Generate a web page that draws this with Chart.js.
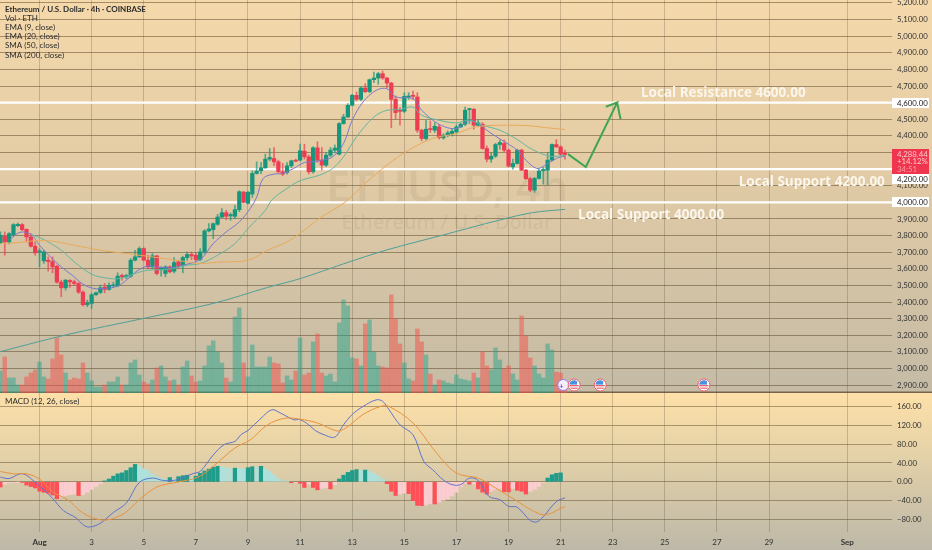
<!DOCTYPE html>
<html>
<head>
<meta charset="utf-8">
<script src="https://cdn.jsdelivr.net/npm/chart.js@4"></script>
<style>
html,body{margin:0;padding:0;width:932px;height:550px;overflow:hidden}
body{background:linear-gradient(180deg,#f5d9ab 0,#e2cba5 170px,#c5bba6 391px,#75654c 392px,#75654c 393px,#fee0a8 393px,#e6d3a8 450px,#bdb8a8 550px)}
#wrap{position:relative;width:932px;height:550px;filter:blur(.35px)}
canvas{position:absolute;left:0}
#priceChart{top:0}
#macdChart{top:393px}
</style>
</head>
<body>
<div id="wrap">
<canvas id="priceChart" width="932" height="393"></canvas>
<canvas id="macdChart" width="932" height="157"></canvas>
</div>
<script>
// bar numbers: 0 is Aug 1 00:00, six 4h bars a day
const firstBar = -9;
const opens = [3756,3796,3762,3806,3860,3866,3838,3792,3736,
  3702,3648,3652,3644,3616,3520,3486,3530,3522,3512,
  3460,3384,3392,3444,3458,3490,3476,3498,3498,3560,
  3552,3556,3652,3672,3722,3652,3612,3678,3596,3572,
  3612,3586,3642,3622,3668,3686,3682,3656,3702,3828,
  3836,3868,3912,3938,3918,3916,3956,4062,3994,4050,
  4174,4190,4208,4260,4264,4244,4184,4180,4220,4254,
  4254,4308,4274,4184,4328,4254,4224,4284,4314,4290,
  4474,4514,4584,4644,4620,4688,4666,4738,4748,4774,
  4748,4718,4620,4554,4548,4634,4644,4634,4434,4384,
  4444,4434,4454,4388,4402,4414,4424,4454,4470,4558,
  4560,4464,4470,4324,4260,4278,4348,4354,4314,4214,
  4234,4314,4194,4142,4074,4144,4190,4194,4254,4348,4334,4296];
const closes = [3802,3762,3812,3866,3868,3836,3792,3736,3696,
  3708,3702,3644,3612,3520,3486,3532,3522,3512,3460,
  3384,3394,3444,3456,3486,3476,3500,3504,3556,3552,
  3560,3652,3672,3722,3652,3612,3678,3572,3606,3612,
  3582,3638,3616,3668,3686,3678,3656,3702,3828,3840,
  3872,3912,3938,3916,3926,3956,4064,4000,4060,4174,
  4188,4208,4260,4270,4244,4184,4170,4220,4250,4248,
  4310,4274,4184,4328,4254,4224,4284,4314,4326,4474,
  4514,4584,4644,4620,4688,4666,4738,4748,4774,4748,
  4718,4620,4540,4548,4638,4640,4638,4434,4384,4440,
  4438,4458,4390,4404,4418,4428,4454,4470,4554,4564,
  4464,4478,4324,4260,4278,4348,4360,4314,4218,4234,
  4314,4194,4142,4074,4144,4188,4198,4254,4348,4334,4290,4288];
const highs = [3822,3822,3818,3872,3876,3872,3840,3812,3762,
  3722,3712,3672,3672,3622,3532,3536,3536,3532,3518,
  3468,3412,3452,3460,3502,3512,3516,3520,3576,3568,
  3568,3662,3712,3732,3728,3682,3692,3682,3612,3618,
  3618,3668,3652,3676,3702,3702,3696,3722,3836,3872,
  3876,3928,3962,3952,3936,3982,4070,4066,4066,4190,
  4244,4240,4290,4324,4330,4254,4234,4240,4254,4260,
  4350,4350,4284,4336,4364,4330,4300,4330,4345,4480,
  4530,4594,4650,4664,4694,4714,4742,4784,4782,4790,
  4752,4722,4640,4570,4660,4660,4670,4660,4440,4494,
  4490,4480,4470,4412,4430,4440,4465,4478,4574,4566,
  4566,4495,4480,4340,4300,4355,4375,4375,4320,4260,
  4320,4320,4198,4150,4150,4200,4210,4300,4352,4378,4340,4314];
const lows = [3752,3682,3750,3796,3854,3830,3762,3730,3682,
  3612,3632,3586,3576,3514,3432,3472,3488,3502,3452,
  3376,3372,3362,3440,3452,3456,3472,3488,3492,3532,
  3540,3548,3648,3668,3648,3602,3602,3564,3556,3552,
  3576,3576,3602,3576,3652,3656,3648,3648,3692,3822,
  3782,3862,3908,3896,3892,3902,3944,3996,3990,4030,
  4170,4172,4204,4250,4220,4176,4160,4170,4208,4244,
  4250,4260,4170,4176,4240,4194,4215,4274,4300,4285,
  4470,4510,4580,4610,4612,4660,4660,4720,4710,4740,
  4690,4450,4504,4464,4540,4620,4620,4420,4370,4374,
  4420,4420,4380,4380,4395,4400,4415,4450,4462,4474,
  4440,4455,4320,4244,4240,4270,4320,4305,4215,4200,
  4230,4190,4140,4064,4060,4140,4110,4104,4250,4330,4280,4260];
const volumes = [22,36,15,15,8,8,16,20,23,
  31,16,14,34,55,38,20,13,15,14,
  30,20,12,6,6,8,11,11,16,8,
  8,30,33,18,11,9,13,25,27,16,
  12,13,8,26,32,17,11,12,27,47,
  52,41,30,15,11,76,85,30,16,48,
  26,26,26,36,30,29,10,17,13,22,
  55,18,20,51,59,20,17,19,11,70,
  93,87,35,34,27,69,73,41,27,26,
  25,98,74,49,30,14,12,64,51,38,
  19,8,13,12,10,9,18,14,13,12,
  20,15,41,27,23,45,33,24,27,19,
  13,77,57,35,27,19,15,49,43,21,20,9];
const macdHist = [-11,-5,-2,-1,-0.5,-1,-7,-10,-13,
  -20,-22,-24,-28,-36,-32,-29,-27,-26,
  -29,-27,-22,-16,-10,-4,2,6,12,17,
  19,24,30,37,34,28,24,17,11,7,
  5,9,5,11,13,14,8,12,18,23,
  27,31,33,32,30,28,29,28,27,30,
  32,31,33,28,22,15,7,2,1,-2,
  -1,-3,-12,-5,-12,-17,-14,-12,-15,-6,
  6,14,20,24,26,24,25,23,18,13,
  6,-4,-20,-29,-26,-24,-25,-40,-50,-50.5,
  -49,-46,-47,-43,-39,-36,-30,-22,-10,-3,
  -5,-4,-15,-22,-26,-20,-16,-14,-21,-21.5,
  -14,-18,-20,-26,-20,-16,-10,-1,8,15,18,19];

const ema9Bars = [-7,-4.5,-2,0,2.5,5,7.5,10,12.5,15,18,20,22.5,25,27,30,33,37,40,43,46,48.5,50,51.5,54,56,58.5,61,63,65,67.5,70,72,74.5,77.5,80,82,86,88,92,96,99,101,103.5,106.5,110,112,114.5,116.5,119,121];
const ema9Vals = [3772,3820,3808,3742,3672,3612,3562,3508,3482,3482,3496,3532,3588,3618,3612,3606,3622,3656,3752,3822,3882,3962,4030,4144,4170,4174,4204,4240,4244,4254,4274,4354,4494,4604,4674,4684,4634,4624,4554,4470,4444,4494,4474,4424,4374,4314,4254,4204,4224,4264,4278];
const ema20Bars = [-2,1,5,8,12,15.5,18.5,22,25,29.5,34,37,41,45,48,52,53.5,57,60,64.5,67.5,70,73,77,80,83,86,88,92,96,99,102,106,110,113.5,117.5,121];
const ema20Vals = [3808,3776,3712,3642,3568,3544,3542,3572,3592,3596,3622,3632,3682,3752,3842,3952,4015,4084,4130,4164,4204,4274,4394,4514,4554,4558,4574,4524,4494,4478,4494,4464,4434,4378,4318,4278,4282];
const sma50Bars = [-9,-5,-1.5,2.5,8,14,20,27,32.5,37,41,48,52.5,57,60,64.5,70.5,75,80,85,90.5,96,99,101.5,106,112,116.5,121];
const sma50Vals = [3752,3758,3768,3768,3742,3712,3692,3668,3648,3632,3640,3652,3712,3762,3814,3904,4004,4114,4224,4314,4384,4414,4444,4458,4464,4462,4450,4438];
const sma200Bars = [-9,6,24,40,52.5,60,70,80,93,106,113.5,121];
const sma200Vals = [3102,3202,3302,3392,3488,3541,3630,3714,3804,3894,3938,3958];
const macdBars = [-9,-7,-4.5,-3,-1.5,1,3,5.5,8.5,10,11.5,14,17,20,23,26,28.5,31.5,35.5,37,40,42.5,45,46.5,48,51,53.5,55.5,58.5,60,62,63.5,65.5,68,70,72,74.5,77.5,79,80.5,83,86,88.5,90.5,93,95,97,99,101,103.5,106,108,110,113,114.5,116,119,121];
const macdVals = [10,7,17,14,3,-17,-35,-61,-77,-91,-96,-88,-65,-45,-1,8,3,4,18,22,57,79,86,101,109,135,153,146,132,132,121,109,100,95,121,143,160,174,171,153,121,100,43,26,4,-6,-6,8,3,-31,-38,-52,-54,-82,-85,-74,-42,-34];
const signalBars = [-9,-6,-3,0,3,6.5,9.5,12.5,15.5,19.5,23,27,31.5,36.5,40,45,48.5,52.5,56.5,60,64,68.5,70.5,74.5,78.5,80.5,86,90.5,94.5,97,101,105,109.5,113.5,116.5,121];
const signalVals = [22,17,17,6,-21,-38,-63,-77,-81,-67,-38,-11,-1,10,33,72,89,121,135,133,125,108,114,143,160,160,125,72,29,15,8,-13,-38,-61,-70,-52];

const levels = [4600,4200,4000];
const levelBoxes = ['4,600.00','4,200.00','4,000.00'];
const priceTicks = {min:2853,max:5217.5,step:100};
const dayTicks = [0,12,24,36,48,60,72,84,96,108,120,132,144,156,168,186];
const dayLabels = ['Aug','3','5','7','9','11','13','15','17','19','21','23','25','27','29','Sep'];
const arrowBars = [121.7,125.8,133,130.4,133,133.8];
const arrowVals = [4290,4213,4600,4575,4600,4500];
const noteTexts = ['Local Resistance 4600.00','Local Support 4200.00','Local Support 4000.00'];
const noteBars = [138.5,161,124];
const noteVals = [4657,4122,3925];
const flagBars = [123.1,129.1,153];
const sparkBar = 120.6;
const legendLines = ['Ethereum / U.S. Dollar · 4h · COINBASE','Vol · ETH','EMA (9, close)','EMA (20, close)','SMA (50, close)','SMA (200, close)'];

const GREEN='#16967c', RED='#ee3c52';
const font = 'Lato';
const xMin=-9.1, xMax=196.3;
const bars = opens.map((_,i)=>i+firstBar);
const pairs = (xs,ys)=>xs.map((x,i)=>({x,y:ys[i]}));
const lineDs = (xs,ys,color,w,axis)=>({type:'line',data:pairs(xs,ys),borderColor:color,borderWidth:w||1,pointRadius:0,tension:.35,yAxisID:axis||'y',order:1});
const candleColors = opens.map((o,i)=>closes[i]>=o?GREEN:RED);
const wickColors = opens.map((o,i)=>closes[i]>=o?'rgba(22,150,124,.7)':'rgba(238,60,82,.7)');
const volColors = opens.map((o,i)=>closes[i]>=o?'rgba(38,166,140,.5)':'rgba(240,90,80,.55)');
const histColors = macdHist.map((h,i)=>{
  const p = i?macdHist[i-1]:0;
  if(h>=0) return h>=p?'#1f9c8a':'#aee0dc';
  return h<p?'#ff5058':'#fccdd0';
});
// fixed axis gutter, no room kept for the first and last tick label
const fixW = s=>{s.width=40;s.paddingTop=0;s.paddingBottom=0};

// watermark goes under the marks, labels and price boxes on top
const priceDecor = {
  id:'priceDecor',
  beforeDatasetsDraw(c){
    const g=c.ctx;
    g.save();g.fillStyle='rgba(110,90,60,.09)';g.textAlign='center';g.textBaseline='middle';
    g.font='600 43px "Noto Sans"';g.fillText('ETHUSD, 4h',447,190);
    g.font='500 20px "Noto Sans"';g.fillText('Ethereum / U.S. Dollar',447,223);
    g.restore();
  },
  afterDraw(c){
    const g=c.ctx, x=c.scales.x, y=c.scales.y;
    g.save();
    g.textBaseline='middle';
    g.textAlign='left';g.fillStyle='#fbf6ec';g.font='700 13.5px "Open Sans"';
    noteTexts.forEach((t,i)=>g.fillText(t,x.getPixelForValue(noteBars[i]),y.getPixelForValue(noteVals[i])));
    // legend
    g.fillStyle='#2b2b2b';
    legendLines.forEach((t,i)=>{g.font=(i?'400':'700')+' 8px '+font;g.fillText(t,5,9+i*9.2)});
    // price boxes
    g.font='7.8px '+font;
    const boxY=[103,179,202];
    levelBoxes.forEach((t,i)=>{
      g.fillStyle='#fff';g.fillRect(892,boxY[i]-5,37,10);
      g.fillStyle='#222';g.fillText(t,897,boxY[i]);
    });
    g.fillStyle='#f0354e';g.fillRect(892,149,37,25);
    g.fillStyle='#ffc9c9';g.fillText('4,288.44',897,154);g.fillText('+14.12%',897,161.5);
    g.fillStyle='#ff9aa5';g.fillText('34:51',897,169);
    // event icons
    const iy=385;
    const ix=x.getPixelForValue(sparkBar);
    g.fillStyle='#f3eefc';g.strokeStyle='#9a7be0';g.lineWidth=1;g.beginPath();g.arc(ix,iy,5.5,0,7);g.fill();g.stroke();
    g.fillStyle='#6a4fd8';g.font='700 8px '+font;g.textAlign='center';g.fillText('+',ix-2,iy+1);
    flagBars.forEach(b=>drawFlag(g,x.getPixelForValue(b),iy));
    g.restore();
  }
};
function drawFlag(g,cx,cy){
  g.save();
  g.beginPath();g.arc(cx,cy,6,0,7);g.fillStyle='#fff';g.fill();
  g.lineWidth=1;g.strokeStyle='#e8606c';g.stroke();
  g.beginPath();g.arc(cx,cy,4.8,0,7);g.clip();
  g.fillStyle='#fff';g.fillRect(cx-5,cy-5,10,10);
  g.fillStyle='#e8606c';g.fillRect(cx-5,cy,10,1.3);g.fillRect(cx-5,cy+2.6,10,1.2);
  g.fillStyle='#4a8fe0';g.fillRect(cx-5,cy-5,8,4.6);
  g.restore();
}
const macdDecor = {
  id:'macdDecor',
  afterDraw(c){
    const g=c.ctx;
    g.save();g.fillStyle='#2b2b2b';g.font='8px '+font;g.textBaseline='middle';
    g.fillText('MACD (12, 26, close)',5,8);
    g.restore();
  }
};

new Chart(document.getElementById('priceChart'),{
  type:'bar',
  data:{datasets:[
    lineDs(sma200Bars,sma200Vals,'#4f9f98',1),
    lineDs(sma50Bars,sma50Vals,'#e9a95a',1),
    lineDs(ema20Bars,ema20Vals,'#62b5a0',1),
    lineDs(ema9Bars,ema9Vals,'#7a78cc',1),
    {type:'line',data:[{x:xMin,y:levels[0]},{x:xMax,y:levels[0]}],borderColor:'#fff',borderWidth:2.4,pointRadius:0,order:3},
    {type:'line',data:[{x:xMin,y:levels[1]},{x:xMax,y:levels[1]}],borderColor:'#fff',borderWidth:2.4,pointRadius:0,order:3},
    {type:'line',data:[{x:xMin,y:levels[2]},{x:xMax,y:levels[2]}],borderColor:'#fff',borderWidth:2.4,pointRadius:0,order:3},
    {type:'line',data:pairs(arrowBars,arrowVals),borderColor:'#3fa552',borderWidth:2,pointRadius:0,tension:0,order:0},
    {label:'body',data:bars.map((x,i)=>({x,y:[opens[i],closes[i]]})),backgroundColor:candleColors,barThickness:3.6,minBarLength:1,grouped:false,order:2},
    {label:'wick',data:bars.map((x,i)=>({x,y:[lows[i],highs[i]]})),backgroundColor:wickColors,barThickness:1,grouped:false,order:2.5},
    {label:'vol',data:bars.map((x,i)=>({x,y:volumes[i]})),backgroundColor:volColors,barThickness:3.8,grouped:false,yAxisID:'yVol',order:5}
  ]},
  options:{
    responsive:false,animation:false,devicePixelRatio:1,
    layout:{padding:0,autoPadding:false},
    plugins:{legend:{display:false},tooltip:{enabled:false}},
    scales:{
      x:{type:'linear',offset:false,min:xMin,max:xMax,
        afterBuildTicks:s=>{s.ticks=dayTicks.map(value=>({value}))},
        afterFit:s=>{s.height=0},
        grid:{offset:false,color:'rgba(80,70,50,.26)',drawTicks:false},border:{display:false},
        ticks:{display:false}},
      y:{position:'right',min:priceTicks.min,max:priceTicks.max,afterFit:fixW,
        grid:{color:'rgba(85,65,35,.5)',lineWidth:1,drawTicks:false},border:{display:false},
        ticks:{stepSize:priceTicks.step,includeBounds:false,autoSkip:false,padding:5,color:'#333',font:{family:'Lato',size:7.8},
          callback:v=>v.toLocaleString('en-US',{minimumFractionDigits:2})}},
      yVol:{display:false,position:'left',min:0,max:392.5}
    }
  },
  plugins:[priceDecor]
});

new Chart(document.getElementById('macdChart'),{
  type:'bar',
  data:{datasets:[
    lineDs(signalBars,signalVals,'#e8923e',1),
    lineDs(macdBars,macdVals,'#5f72cc',1),
    {data:bars.map((x,i)=>({x,y:macdHist[i]})),backgroundColor:histColors,barThickness:3.6,grouped:false,order:4}
  ]},
  options:{
    responsive:false,animation:false,devicePixelRatio:1,
    layout:{padding:0,autoPadding:false},
    plugins:{legend:{display:false},tooltip:{enabled:false}},
    scales:{
      x:{type:'linear',offset:false,min:xMin,max:xMax,
        afterBuildTicks:s=>{s.ticks=dayTicks.map(value=>({value}))},
        afterFit:s=>{s.height=18},
        grid:{offset:false,color:'rgba(80,70,50,.26)',drawTicks:false},border:{display:false},
        ticks:{autoSkip:false,maxRotation:0,padding:6,color:'#333',
          font:c=>({family:'Lato',size:8,weight:(c.index===0||c.index===dayLabels.length-1)?'700':'400'}),
          callback:(v,i)=>dayLabels[i]}},
      y:{position:'right',min:-106.5,max:188.6,afterFit:fixW,
        grid:{color:'rgba(85,65,35,.45)',lineWidth:1,drawTicks:false},border:{display:false},
        ticks:{stepSize:40,includeBounds:false,autoSkip:false,padding:5,color:'#333',font:{family:'Lato',size:7.8},
          callback:v=>v.toFixed(2).replace('-','−')}}
    }
  },
  plugins:[macdDecor]
});
</script>
</body>
</html>
